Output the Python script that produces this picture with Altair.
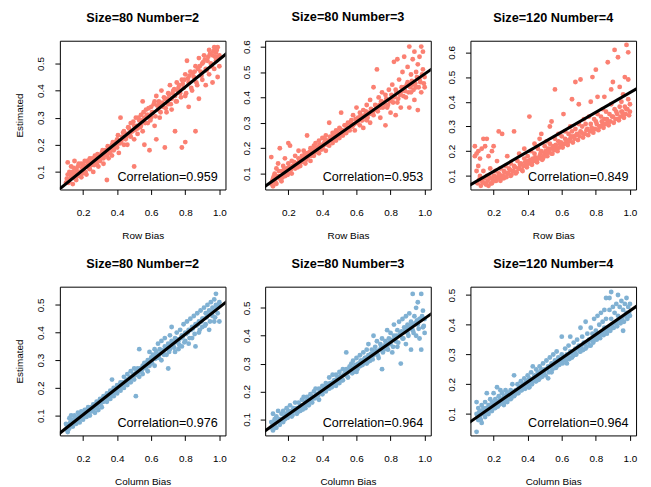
import altair as alt
import pandas as pd

FONT = "Liberation Sans"

titles = ["Size=80 Number=2", "Size=80 Number=3", "Size=120 Number=4"]
row_corr = ["0.959", "0.953", "0.849"]
col_corr = ["0.976", "0.964", "0.964"]
row_fit = [(0.005, 0.510), (0.0202, 0.472), (0.0384, 0.399)]   # (intercept, slope)
col_fit = [(0.0055, 0.486), (0.0311, 0.4306), (0.0488, 0.398)]
row_ydom = [(0.035, 0.584), (0.0375, 0.623), (0.045, 0.647)]
col_ydom = [(0.028, 0.566), (0.042, 0.576), (0.028, 0.528)]
row_yticks = [[0.1, 0.2, 0.3, 0.4, 0.5], [0.1, 0.2, 0.3, 0.4, 0.5, 0.6], [0.1, 0.2, 0.3, 0.4, 0.5, 0.6]]
col_yticks = [[0.1, 0.2, 0.3, 0.4, 0.5], [0.1, 0.2, 0.3, 0.4, 0.5], [0.1, 0.2, 0.3, 0.4, 0.5]]
x_ticks = [0.2, 0.4, 0.6, 0.8, 1.0]
x_dom = (0.064, 1.036)
ROW_COLOR = "#FB8072"
COL_COLOR = "#80B1D3"

row_80_2 = [(0.10,0.06),(0.11,0.09),(0.11,0.135),(0.12,0.07),(0.12,0.10),(0.13,0.08),(0.13,0.12),(0.14,0.055),(0.14,0.10),(0.15,0.14),(0.15,0.09),(0.16,0.07),(0.16,0.11),(0.17,0.12),(0.17,0.085),(0.18,0.10),(0.19,0.13),(0.19,0.08),(0.20,0.11),(0.20,0.095),(0.21,0.14),(0.22,0.12),(0.22,0.09),(0.23,0.13),(0.24,0.11),(0.24,0.15),(0.25,0.125),(0.26,0.14),(0.26,0.10),(0.27,0.16),(0.28,0.13),(0.28,0.15),(0.29,0.12),(0.30,0.16),(0.30,0.14),(0.31,0.17),(0.32,0.15),(0.32,0.13),(0.33,0.18),(0.34,0.16),(0.34,0.07),(0.35,0.19),(0.35,0.15),(0.36,0.17),(0.37,0.20),(0.37,0.16),(0.38,0.18),(0.39,0.21),(0.40,0.19),(0.40,0.22),(0.41,0.17),(0.42,0.30),(0.42,0.21),(0.43,0.23),(0.44,0.20),(0.44,0.25),(0.45,0.22),(0.46,0.24),(0.46,0.20),(0.47,0.26),(0.48,0.23),(0.48,0.28),(0.49,0.25),(0.50,0.12),(0.50,0.27),(0.50,0.22),(0.51,0.30),(0.52,0.26),(0.52,0.24),(0.53,0.29),(0.54,0.31),(0.54,0.27),(0.55,0.36),(0.55,0.25),(0.56,0.30),(0.56,0.20),(0.57,0.33),(0.58,0.28),(0.58,0.31),(0.59,0.18),(0.60,0.34),(0.60,0.30),(0.61,0.32),(0.62,0.36),(0.62,0.27),(0.63,0.22),(0.63,0.38),(0.64,0.33),(0.65,0.35),(0.65,0.30),(0.66,0.40),(0.67,0.34),(0.68,0.19),(0.68,0.37),(0.69,0.32),(0.70,0.39),(0.70,0.35),(0.71,0.42),(0.72,0.37),(0.72,0.33),(0.73,0.40),(0.74,0.25),(0.74,0.38),(0.75,0.43),(0.75,0.36),(0.76,0.41),(0.77,0.39),(0.78,0.19),(0.78,0.44),(0.79,0.41),(0.80,0.21),(0.80,0.46),(0.80,0.38),(0.81,0.51),(0.82,0.43),(0.82,0.34),(0.83,0.47),(0.84,0.40),(0.85,0.45),(0.86,0.25),(0.86,0.49),(0.87,0.42),(0.88,0.52),(0.88,0.37),(0.89,0.47),(0.90,0.50),(0.90,0.44),(0.91,0.53),(0.92,0.48),(0.92,0.42),(0.93,0.51),(0.94,0.55),(0.94,0.46),(0.95,0.50),(0.96,0.53),(0.96,0.43),(0.97,0.56),(0.97,0.48),(0.98,0.54),(0.98,0.51),(0.99,0.56),(0.99,0.45),(1.00,0.53),(1.00,0.49)]

row_80_3 = [(0.10,0.06),(0.10,0.165),(0.11,0.08),(0.11,0.05),(0.12,0.10),(0.12,0.07),(0.13,0.12),(0.13,0.06),(0.14,0.09),(0.14,0.14),(0.15,0.08),(0.15,0.20),(0.16,0.11),(0.16,0.07),(0.17,0.10),(0.17,0.13),(0.18,0.09),(0.18,0.16),(0.19,0.12),(0.20,0.22),(0.20,0.10),(0.20,0.14),(0.21,0.12),(0.21,0.21),(0.22,0.15),(0.22,0.10),(0.23,0.13),(0.24,0.17),(0.24,0.12),(0.25,0.14),(0.26,0.16),(0.26,0.19),(0.27,0.13),(0.28,0.17),(0.28,0.15),(0.29,0.19),(0.30,0.16),(0.30,0.14),(0.31,0.25),(0.31,0.18),(0.32,0.17),(0.33,0.20),(0.33,0.15),(0.34,0.19),(0.35,0.21),(0.35,0.17),(0.36,0.22),(0.37,0.19),(0.38,0.23),(0.38,0.18),(0.39,0.21),(0.40,0.24),(0.40,0.20),(0.41,0.22),(0.42,0.25),(0.42,0.19),(0.43,0.23),(0.44,0.30),(0.44,0.21),(0.45,0.24),(0.46,0.26),(0.46,0.22),(0.47,0.25),(0.48,0.27),(0.48,0.23),(0.49,0.26),(0.50,0.28),(0.50,0.24),(0.51,0.34),(0.52,0.27),(0.52,0.25),(0.53,0.29),(0.54,0.26),(0.55,0.30),(0.55,0.28),(0.56,0.27),(0.57,0.31),(0.58,0.29),(0.58,0.33),(0.59,0.27),(0.60,0.36),(0.60,0.30),(0.61,0.32),(0.62,0.29),(0.62,0.34),(0.63,0.31),(0.64,0.35),(0.64,0.28),(0.65,0.33),(0.66,0.37),(0.66,0.31),(0.67,0.34),(0.68,0.30),(0.68,0.39),(0.69,0.35),(0.70,0.44),(0.70,0.33),(0.71,0.37),(0.72,0.51),(0.72,0.35),(0.73,0.40),(0.74,0.36),(0.74,0.32),(0.75,0.42),(0.76,0.38),(0.77,0.29),(0.77,0.41),(0.78,0.36),(0.79,0.43),(0.80,0.39),(0.80,0.34),(0.81,0.45),(0.82,0.54),(0.82,0.40),(0.83,0.33),(0.83,0.43),(0.84,0.55),(0.84,0.38),(0.85,0.47),(0.86,0.42),(0.86,0.36),(0.87,0.50),(0.88,0.56),(0.88,0.44),(0.89,0.40),(0.90,0.52),(0.90,0.46),(0.91,0.60),(0.91,0.36),(0.92,0.49),(0.92,0.42),(0.93,0.55),(0.93,0.45),(0.94,0.58),(0.94,0.39),(0.95,0.50),(0.95,0.44),(0.96,0.53),(0.96,0.35),(0.97,0.47),(0.97,0.56),(0.98,0.60),(0.98,0.42),(0.99,0.51),(0.99,0.58),(1.00,0.48),(1.00,0.44)]

row_120_4 = [(0.09,0.22),(0.09,0.18),(0.10,0.12),(0.10,0.19),(0.11,0.20),(0.11,0.14),(0.12,0.17),(0.12,0.10),(0.13,0.21),(0.13,0.08),(0.14,0.25),(0.14,0.12),(0.15,0.22),(0.15,0.07),(0.16,0.25),(0.16,0.10),(0.17,0.18),(0.17,0.06),(0.18,0.09),(0.18,0.13),(0.19,0.20),(0.19,0.07),(0.20,0.10),(0.20,0.22),(0.21,0.08),(0.21,0.12),(0.22,0.09),(0.22,0.16),(0.23,0.28),(0.23,0.11),(0.24,0.08),(0.24,0.13),(0.25,0.10),(0.25,0.27),(0.26,0.12),(0.26,0.09),(0.27,0.14),(0.28,0.11),(0.28,0.18),(0.29,0.13),(0.30,0.10),(0.30,0.15),(0.31,0.12),(0.32,0.28),(0.32,0.14),(0.33,0.11),(0.34,0.16),(0.35,0.13),(0.35,0.19),(0.36,0.15),(0.37,0.12),(0.38,0.17),(0.38,0.21),(0.39,0.14),(0.40,0.18),(0.40,0.16),(0.41,0.34),(0.42,0.15),(0.42,0.20),(0.43,0.17),(0.44,0.23),(0.44,0.19),(0.45,0.16),(0.46,0.21),(0.47,0.18),(0.47,0.25),(0.48,0.27),(0.48,0.20),(0.49,0.17),(0.50,0.22),(0.50,0.19),(0.51,0.24),(0.52,0.21),(0.53,0.30),(0.53,0.23),(0.54,0.32),(0.54,0.19),(0.55,0.22),(0.56,0.45),(0.56,0.25),(0.57,0.21),(0.58,0.24),(0.58,0.27),(0.59,0.23),(0.60,0.26),(0.60,0.22),(0.61,0.35),(0.62,0.25),(0.62,0.28),(0.63,0.23),(0.64,0.27),(0.65,0.30),(0.65,0.25),(0.66,0.41),(0.66,0.28),(0.67,0.26),(0.68,0.48),(0.68,0.29),(0.69,0.27),(0.70,0.39),(0.70,0.31),(0.71,0.49),(0.71,0.28),(0.72,0.30),(0.73,0.33),(0.73,0.27),(0.74,0.31),(0.75,0.29),(0.76,0.34),(0.77,0.40),(0.77,0.31),(0.78,0.50),(0.78,0.29),(0.79,0.33),(0.80,0.53),(0.80,0.32),(0.81,0.42),(0.81,0.35),(0.82,0.30),(0.83,0.34),(0.84,0.37),(0.84,0.31),(0.85,0.42),(0.85,0.33),(0.86,0.36),(0.87,0.56),(0.87,0.32),(0.88,0.35),(0.89,0.39),(0.90,0.48),(0.90,0.34),(0.91,0.37),(0.91,0.61),(0.92,0.36),(0.93,0.58),(0.93,0.33),(0.94,0.46),(0.94,0.38),(0.95,0.36),(0.95,0.40),(0.96,0.35),(0.97,0.50),(0.97,0.38),(0.98,0.63),(0.98,0.37),(0.99,0.60),(0.99,0.41),(1.00,0.39),(1.00,0.36),(0.99,0.49),(0.96,0.43),(0.89,0.45)]

col_80_2 = [(0.10,0.05),(0.10,0.07),(0.11,0.04),(0.11,0.06),(0.12,0.09),(0.12,0.055),(0.13,0.07),(0.13,0.10),(0.14,0.06),(0.14,0.085),(0.15,0.08),(0.15,0.10),(0.16,0.07),(0.16,0.09),(0.17,0.11),(0.17,0.08),(0.18,0.10),(0.18,0.075),(0.19,0.09),(0.19,0.115),(0.20,0.10),(0.20,0.085),(0.21,0.12),(0.21,0.10),(0.22,0.11),(0.22,0.095),(0.23,0.13),(0.23,0.11),(0.24,0.12),(0.24,0.10),(0.25,0.13),(0.25,0.115),(0.26,0.14),(0.26,0.12),(0.27,0.13),(0.27,0.11),(0.28,0.15),(0.28,0.13),(0.29,0.14),(0.29,0.12),(0.30,0.16),(0.30,0.14),(0.31,0.15),(0.31,0.13),(0.32,0.17),(0.32,0.15),(0.33,0.16),(0.34,0.18),(0.34,0.15),(0.35,0.17),(0.36,0.19),(0.36,0.16),(0.37,0.23),(0.37,0.18),(0.38,0.20),(0.38,0.17),(0.39,0.19),(0.40,0.21),(0.40,0.18),(0.41,0.20),(0.42,0.22),(0.42,0.19),(0.43,0.21),(0.44,0.24),(0.44,0.20),(0.45,0.22),(0.46,0.25),(0.46,0.21),(0.47,0.23),(0.48,0.26),(0.48,0.22),(0.49,0.24),(0.50,0.27),(0.50,0.23),(0.51,0.17),(0.51,0.25),(0.52,0.27),(0.53,0.34),(0.53,0.24),(0.54,0.26),(0.55,0.28),(0.55,0.25),(0.56,0.29),(0.57,0.27),(0.58,0.30),(0.58,0.26),(0.59,0.33),(0.59,0.28),(0.60,0.31),(0.60,0.29),(0.61,0.32),(0.62,0.34),(0.62,0.28),(0.63,0.33),(0.64,0.36),(0.64,0.31),(0.65,0.34),(0.66,0.30),(0.66,0.37),(0.67,0.33),(0.68,0.35),(0.68,0.38),(0.69,0.32),(0.70,0.36),(0.70,0.27),(0.71,0.39),(0.71,0.34),(0.72,0.37),(0.72,0.42),(0.73,0.35),(0.74,0.38),(0.74,0.33),(0.75,0.40),(0.76,0.37),(0.76,0.34),(0.77,0.41),(0.78,0.39),(0.78,0.35),(0.79,0.43),(0.80,0.40),(0.80,0.37),(0.81,0.44),(0.82,0.41),(0.82,0.36),(0.83,0.45),(0.84,0.42),(0.84,0.38),(0.85,0.46),(0.86,0.43),(0.86,0.35),(0.87,0.47),(0.88,0.44),(0.88,0.40),(0.89,0.48),(0.90,0.45),(0.90,0.42),(0.91,0.49),(0.92,0.47),(0.92,0.43),(0.93,0.50),(0.94,0.48),(0.94,0.41),(0.95,0.51),(0.96,0.49),(0.96,0.46),(0.97,0.52),(0.97,0.44),(0.98,0.54),(0.98,0.50),(0.99,0.47),(1.00,0.51),(1.00,0.44)]

col_80_3 = [(0.10,0.07),(0.10,0.09),(0.11,0.06),(0.11,0.12),(0.12,0.08),(0.12,0.10),(0.13,0.07),(0.13,0.11),(0.14,0.09),(0.14,0.13),(0.15,0.10),(0.15,0.08),(0.16,0.12),(0.16,0.10),(0.17,0.09),(0.17,0.13),(0.18,0.11),(0.18,0.10),(0.19,0.12),(0.19,0.14),(0.20,0.11),(0.20,0.13),(0.21,0.12),(0.21,0.15),(0.22,0.13),(0.22,0.11),(0.23,0.14),(0.24,0.13),(0.24,0.16),(0.25,0.14),(0.25,0.12),(0.26,0.16),(0.27,0.15),(0.27,0.13),(0.28,0.17),(0.29,0.15),(0.29,0.18),(0.30,0.16),(0.30,0.14),(0.31,0.18),(0.32,0.17),(0.32,0.15),(0.33,0.19),(0.34,0.18),(0.34,0.16),(0.35,0.20),(0.36,0.18),(0.36,0.21),(0.37,0.19),(0.38,0.17),(0.38,0.21),(0.39,0.20),(0.40,0.22),(0.40,0.19),(0.41,0.21),(0.42,0.23),(0.42,0.20),(0.43,0.22),(0.44,0.25),(0.44,0.21),(0.45,0.23),(0.46,0.22),(0.46,0.26),(0.47,0.24),(0.48,0.22),(0.48,0.26),(0.49,0.25),(0.50,0.27),(0.50,0.23),(0.51,0.25),(0.52,0.28),(0.52,0.24),(0.53,0.26),(0.54,0.34),(0.54,0.28),(0.55,0.25),(0.56,0.29),(0.56,0.27),(0.57,0.30),(0.58,0.27),(0.58,0.31),(0.59,0.29),(0.60,0.32),(0.60,0.27),(0.61,0.30),(0.62,0.33),(0.62,0.29),(0.63,0.31),(0.64,0.34),(0.64,0.30),(0.65,0.32),(0.66,0.35),(0.66,0.30),(0.67,0.37),(0.67,0.33),(0.68,0.31),(0.69,0.35),(0.70,0.40),(0.70,0.33),(0.71,0.36),(0.72,0.34),(0.72,0.38),(0.73,0.32),(0.74,0.37),(0.75,0.28),(0.75,0.39),(0.76,0.35),(0.77,0.38),(0.78,0.42),(0.78,0.36),(0.79,0.39),(0.80,0.37),(0.80,0.41),(0.81,0.34),(0.82,0.40),(0.82,0.44),(0.83,0.38),(0.84,0.42),(0.84,0.36),(0.85,0.45),(0.86,0.30),(0.86,0.41),(0.87,0.46),(0.87,0.39),(0.88,0.43),(0.89,0.47),(0.89,0.37),(0.90,0.44),(0.90,0.41),(0.91,0.48),(0.92,0.35),(0.92,0.45),(0.93,0.55),(0.93,0.42),(0.94,0.47),(0.95,0.50),(0.95,0.40),(0.96,0.44),(0.96,0.52),(0.97,0.46),(0.97,0.39),(0.98,0.55),(0.98,0.35),(0.99,0.49),(0.99,0.43),(1.00,0.46),(1.00,0.41)]

col_120_4 = [(0.10,0.04),(0.10,0.10),(0.10,0.14),(0.11,0.08),(0.11,0.12),(0.12,0.09),(0.12,0.11),(0.13,0.07),(0.13,0.13),(0.14,0.10),(0.14,0.12),(0.15,0.09),(0.15,0.14),(0.16,0.11),(0.16,0.17),(0.17,0.10),(0.17,0.13),(0.18,0.12),(0.18,0.15),(0.19,0.11),(0.19,0.14),(0.20,0.13),(0.20,0.17),(0.21,0.12),(0.21,0.15),(0.22,0.14),(0.22,0.19),(0.23,0.13),(0.23,0.16),(0.24,0.15),(0.24,0.18),(0.25,0.14),(0.25,0.17),(0.26,0.16),(0.26,0.13),(0.27,0.15),(0.27,0.18),(0.28,0.17),(0.28,0.14),(0.29,0.16),(0.30,0.18),(0.30,0.15),(0.31,0.20),(0.31,0.17),(0.32,0.16),(0.32,0.23),(0.33,0.18),(0.34,0.20),(0.34,0.17),(0.35,0.19),(0.36,0.21),(0.36,0.18),(0.37,0.20),(0.38,0.22),(0.38,0.19),(0.39,0.21),(0.40,0.23),(0.40,0.20),(0.41,0.22),(0.41,0.19),(0.42,0.24),(0.43,0.21),(0.43,0.26),(0.44,0.23),(0.45,0.21),(0.45,0.25),(0.46,0.24),(0.47,0.22),(0.47,0.26),(0.48,0.25),(0.49,0.23),(0.49,0.27),(0.50,0.25),(0.51,0.28),(0.52,0.22),(0.52,0.26),(0.53,0.29),(0.54,0.27),(0.54,0.24),(0.55,0.30),(0.56,0.28),(0.57,0.26),(0.57,0.31),(0.58,0.29),(0.59,0.27),(0.60,0.36),(0.60,0.30),(0.61,0.28),(0.62,0.32),(0.63,0.30),(0.63,0.27),(0.64,0.33),(0.65,0.36),(0.65,0.31),(0.66,0.29),(0.67,0.34),(0.68,0.32),(0.68,0.30),(0.69,0.35),(0.70,0.33),(0.71,0.39),(0.71,0.31),(0.72,0.36),(0.73,0.34),(0.74,0.41),(0.74,0.32),(0.75,0.37),(0.76,0.35),(0.77,0.39),(0.77,0.33),(0.78,0.37),(0.79,0.42),(0.79,0.35),(0.80,0.38),(0.81,0.43),(0.81,0.36),(0.82,0.40),(0.83,0.44),(0.83,0.37),(0.84,0.41),(0.85,0.45),(0.85,0.39),(0.86,0.49),(0.86,0.42),(0.87,0.38),(0.88,0.45),(0.88,0.49),(0.89,0.51),(0.89,0.42),(0.90,0.46),(0.90,0.39),(0.91,0.44),(0.92,0.47),(0.92,0.41),(0.93,0.50),(0.93,0.43),(0.94,0.46),(0.95,0.48),(0.95,0.42),(0.96,0.45),(0.96,0.38),(0.97,0.47),(0.98,0.49),(0.98,0.44),(0.99,0.46),(1.00,0.47),(1.00,0.43)]

# second batch of points, read along the dense core of each cloud (shared x positions)
core_x = [0.105,0.115,0.125,0.135,0.145,0.155,0.165,0.175,0.185,0.195,0.205,0.215,0.225,0.235,0.245,0.255,0.265,0.275,0.285,0.295,0.305,0.315,0.325,0.335,0.345,0.355,0.365,0.375,0.385,0.395,0.405,0.415,0.425,0.435,0.445,0.455,0.465,0.475,0.485,0.495,0.505,0.515,0.525,0.535,0.545,0.555,0.565,0.575,0.585,0.595,0.605,0.615,0.625,0.635,0.645,0.655,0.665,0.675,0.685,0.695,0.705,0.715,0.725,0.735,0.745,0.755,0.765,0.775,0.785,0.795,0.805,0.815,0.825,0.835,0.845,0.855,0.865,0.875,0.885,0.895,0.905,0.915,0.925,0.935,0.945,0.955,0.965,0.975,0.985,0.995]

row_80_2_core = [0.075,0.06,0.095,0.085,0.115,0.075,0.10,0.13,0.09,0.115,0.125,0.10,0.14,0.115,0.135,0.15,0.125,0.14,0.165,0.145,0.15,0.18,0.16,0.165,0.195,0.17,0.185,0.21,0.19,0.20,0.235,0.205,0.215,0.245,0.225,0.23,0.265,0.24,0.25,0.285,0.255,0.27,0.30,0.265,0.29,0.32,0.28,0.31,0.335,0.29,0.32,0.35,0.305,0.345,0.36,0.32,0.355,0.375,0.335,0.37,0.385,0.35,0.39,0.405,0.36,0.40,0.42,0.375,0.425,0.44,0.39,0.445,0.455,0.41,0.465,0.47,0.43,0.48,0.49,0.455,0.505,0.515,0.475,0.525,0.535,0.49,0.545,0.525,0.55,0.52]
row_80_3_core = [0.07,0.09,0.065,0.085,0.11,0.09,0.085,0.115,0.11,0.095,0.125,0.115,0.13,0.145,0.14,0.125,0.15,0.145,0.16,0.175,0.155,0.165,0.185,0.17,0.18,0.20,0.185,0.205,0.215,0.195,0.21,0.235,0.215,0.225,0.245,0.23,0.24,0.26,0.245,0.25,0.275,0.26,0.265,0.29,0.27,0.28,0.30,0.285,0.295,0.315,0.30,0.31,0.33,0.31,0.325,0.345,0.32,0.335,0.355,0.34,0.35,0.365,0.345,0.37,0.385,0.36,0.375,0.395,0.37,0.385,0.41,0.38,0.405,0.42,0.395,0.41,0.44,0.405,0.425,0.45,0.42,0.44,0.465,0.43,0.455,0.48,0.44,0.46,0.49,0.455]
row_120_4_core = [0.07,0.085,0.06,0.075,0.09,0.065,0.08,0.095,0.07,0.085,0.10,0.08,0.095,0.105,0.09,0.10,0.115,0.095,0.11,0.125,0.105,0.12,0.135,0.115,0.13,0.145,0.125,0.14,0.155,0.135,0.15,0.165,0.145,0.16,0.175,0.155,0.17,0.19,0.165,0.18,0.20,0.18,0.195,0.21,0.19,0.205,0.225,0.20,0.215,0.235,0.215,0.23,0.245,0.225,0.24,0.26,0.235,0.25,0.265,0.245,0.26,0.275,0.255,0.27,0.285,0.265,0.28,0.295,0.275,0.29,0.31,0.285,0.30,0.32,0.295,0.31,0.33,0.305,0.32,0.34,0.315,0.33,0.35,0.325,0.34,0.36,0.335,0.35,0.37,0.345]
col_80_2_core = [0.065,0.05,0.075,0.07,0.08,0.09,0.08,0.095,0.09,0.105,0.105,0.11,0.12,0.115,0.125,0.13,0.125,0.14,0.14,0.15,0.145,0.16,0.155,0.17,0.165,0.18,0.175,0.19,0.185,0.20,0.195,0.21,0.205,0.22,0.215,0.23,0.225,0.24,0.235,0.25,0.245,0.26,0.255,0.27,0.265,0.275,0.28,0.29,0.285,0.30,0.29,0.31,0.305,0.32,0.31,0.325,0.335,0.32,0.34,0.345,0.33,0.355,0.36,0.345,0.365,0.375,0.355,0.38,0.385,0.365,0.395,0.40,0.38,0.41,0.415,0.395,0.425,0.43,0.41,0.44,0.45,0.425,0.455,0.465,0.44,0.47,0.48,0.455,0.49,0.50]
col_80_3_core = [0.075,0.085,0.07,0.095,0.09,0.10,0.095,0.105,0.115,0.105,0.12,0.125,0.115,0.13,0.135,0.125,0.14,0.145,0.135,0.15,0.165,0.155,0.17,0.165,0.18,0.175,0.19,0.185,0.20,0.195,0.205,0.215,0.21,0.22,0.23,0.215,0.235,0.24,0.23,0.245,0.255,0.24,0.26,0.27,0.255,0.275,0.28,0.265,0.285,0.295,0.28,0.30,0.31,0.295,0.315,0.32,0.305,0.325,0.335,0.315,0.34,0.345,0.33,0.35,0.36,0.34,0.365,0.37,0.35,0.375,0.385,0.36,0.39,0.40,0.375,0.405,0.415,0.39,0.42,0.43,0.40,0.435,0.44,0.41,0.445,0.455,0.425,0.46,0.47,0.435]
col_120_4_core = [0.09,0.105,0.08,0.11,0.10,0.12,0.105,0.125,0.115,0.13,0.12,0.14,0.125,0.145,0.135,0.15,0.14,0.16,0.15,0.165,0.155,0.175,0.165,0.18,0.17,0.19,0.18,0.195,0.185,0.205,0.19,0.21,0.20,0.22,0.21,0.225,0.215,0.235,0.225,0.24,0.23,0.25,0.24,0.26,0.25,0.265,0.255,0.275,0.265,0.28,0.27,0.29,0.28,0.295,0.285,0.305,0.295,0.31,0.30,0.32,0.31,0.325,0.315,0.335,0.325,0.34,0.33,0.35,0.34,0.36,0.35,0.365,0.355,0.375,0.365,0.38,0.37,0.39,0.38,0.40,0.39,0.405,0.395,0.415,0.405,0.42,0.41,0.43,0.42,0.44]

W, H = 167, 150


def panel(pts, core, title, xtitle, ytitle, ydom, yticks, color, fit, corr):
    df = pd.concat([pd.DataFrame(pts, columns=["x", "y"]),
                    pd.DataFrame({"x": core_x, "y": core})], ignore_index=True)
    xs = alt.Scale(domain=list(x_dom), nice=False, zero=False)
    ys = alt.Scale(domain=list(ydom), nice=False, zero=False)
    xaxis = alt.Axis(values=x_ticks, format=".1f", title=xtitle,
                     titleY=49, titleX=W / 2, titleBaseline="alphabetic",
                     titleAlign="center", titleAngle=0, labelOverlap=False, labelFlush=False,
                     labelBaseline="alphabetic", labelPadding=21)
    yargs = dict(values=yticks, format=".1f", labelAngle=270, labelOverlap=False, labelFlush=False,
                 labelSeparation=0, labelAlign="center", labelBaseline="alphabetic", labelPadding=11)
    if ytitle:
        yargs.update(title=ytitle, titleX=-37.5, titleY=H / 2, titleAngle=270,
                     titleAlign="center", titleBaseline="alphabetic")
    else:
        yargs.update(title=None)
    yaxis = alt.Axis(**yargs)
    pts_layer = alt.Chart(df).mark_circle(size=24, opacity=1, color=color).encode(
        x=alt.X("x:Q", scale=xs, axis=xaxis),
        y=alt.Y("y:Q", scale=ys, axis=yaxis),
    )
    a, b = fit
    line_df = pd.DataFrame({"x": [0.0, 1.1]})
    line_df["y"] = a + b * line_df["x"]
    line_layer = alt.Chart(line_df).mark_line(color="black", strokeWidth=3, clip=True).encode(
        x=alt.X("x:Q", scale=xs, axis=xaxis), y=alt.Y("y:Q", scale=ys, axis=yaxis)
    )
    txt_df = pd.DataFrame({"label": ["Correlation=" + corr]})
    txt_layer = alt.Chart(txt_df).mark_text(
        align="right", baseline="alphabetic", fontSize=12.7, font=FONT, color="black"
    ).encode(text="label:N", x=alt.value(W - 7.7), y=alt.value(H - 8.5))
    return alt.layer(pts_layer, line_layer, txt_layer).properties(
        width=W, height=H,
        title=alt.TitleParams(text=title, fontSize=12.8, font=FONT, fontWeight="bold",
                              color="black", offset=6.5, baseline="alphabetic", anchor="middle"),
    )


row_sets = [row_80_2, row_80_3, row_120_4]
row_cores = [row_80_2_core, row_80_3_core, row_120_4_core]
col_sets = [col_80_2, col_80_3, col_120_4]
col_cores = [col_80_2_core, col_80_3_core, col_120_4_core]

panels = []
for i in range(3):
    panels.append(panel(row_sets[i], row_cores[i], titles[i], "Row Bias", "Estimated" if i == 0 else "",
                        row_ydom[i], row_yticks[i], ROW_COLOR, row_fit[i], row_corr[i]))
for i in range(3):
    panels.append(panel(col_sets[i], col_cores[i], titles[i], "Column Bias", "Estimated" if i == 0 else "",
                        col_ydom[i], col_yticks[i], COL_COLOR, col_fit[i], col_corr[i]))

chart = alt.concat(*panels, columns=3, spacing={"row": 98, "column": 40}, bounds="flush").properties(
    padding={"left": 6.3, "top": 0, "right": 5, "bottom": 0},
    background="white",
).configure_view(stroke="black", strokeWidth=1).configure_axis(
    grid=False, domain=False, tickColor="black", tickSize=5, tickWidth=1,
    labelFont=FONT, labelFontSize=10, labelColor="black", labelOverlap=False,
    titleFont=FONT, titleFontSize=10, titleFontWeight="normal", titleColor="black",
).configure_axisY(labelOverlap=False)

chart.save("out.html", embed_options={"renderer": "svg", "actions": False})
